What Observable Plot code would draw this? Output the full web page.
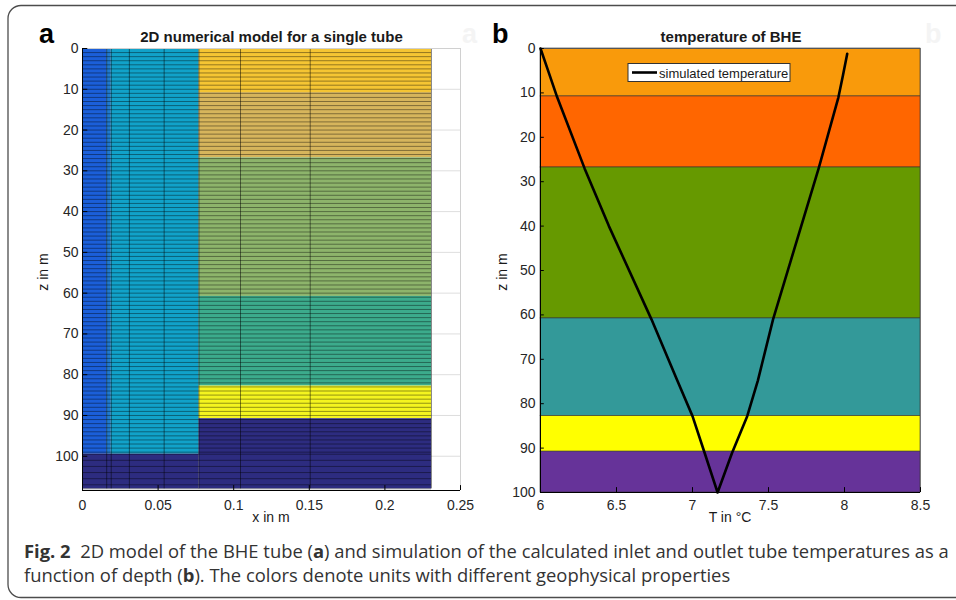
<!DOCTYPE html>
<html><head><meta charset="utf-8">
<script src="https://cdn.jsdelivr.net/npm/d3@7"></script>
<script src="https://cdn.jsdelivr.net/npm/@observablehq/plot@0.6"></script>
<style>
body{margin:0;background:#fff;}
#fig{position:relative;width:956px;height:600px;overflow:hidden;background:#fff;}
#fig > svg{position:absolute;top:0;}
#panelA{left:0;} #panelB{left:478px;} #overlay{left:0;}
</style></head><body><div id="fig"></div>
<script>
// ---------- data ----------
const layerDepths = [0, 10.8, 26.8, 60.8, 82.8, 90.8, 100];
const layerColorsA = ["#f5c533", "#d6b55c", "#8db46b", "#3cab8c", "#f4f41f", "#2d2c80"];
const layerColorsB = ["#f99a0b", "#ff6600", "#669900", "#339999", "#ffff00", "#663399"];
const innerEdges = [0, 0.016, 0.019, 0.077];
const innerColors = ["#1b5fd9", "#1f7ad0", "#11a2c9"];
const innerBottom = 99.5;
const meshBottom = 108;
const outerRight = 0.2308;
const meshX = [0.016, 0.019, 0.031, 0.054, 0.077, 0.1045, 0.1506, 0.2308];
const meshZoneStart = [0, 99.5];
const meshZoneEnd = [99.5, 108];
const meshZoneStep = [1, 1.5];
const profileT = [6.00, 6.05, 6.11, 6.29, 6.45, 6.73, 6.90, 7.00, 7.08, 7.165, 7.26, 7.36, 7.43, 7.53, 7.83, 7.96, 7.99, 8.018];
const profileZ = [0, 5, 11, 27, 40, 61, 74.8, 82.8, 91.1, 100, 91.1, 82.8, 74.8, 61, 27, 11, 6, 1.2];
const xTicksA = [0, 0.05, 0.1, 0.15, 0.2, 0.25];
const xTicksB = [6, 6.5, 7, 7.5, 8, 8.5];
const yTicks = [0, 10, 20, 30, 40, 50, 60, 70, 80, 90, 100];

// ---------- derived tables ----------
const cellsA = [];
for (let i = 0; i < layerColorsA.length; i++) {
  cellsA.push({x1: innerEdges[3], x2: outerRight, y1: layerDepths[i],
    y2: i === layerColorsA.length - 1 ? meshBottom : layerDepths[i + 1], fill: layerColorsA[i]});
}
for (let j = 0; j < innerColors.length; j++) {
  cellsA.push({x1: innerEdges[j], x2: innerEdges[j + 1], y1: 0, y2: innerBottom, fill: innerColors[j]});
}
cellsA.push({x1: 0, x2: innerEdges[3], y1: innerBottom, y2: meshBottom, fill: layerColorsA[layerColorsA.length - 1]});
const meshZ = [];
meshZoneStart.forEach((s, k) => { d3.range(s, meshZoneEnd[k], meshZoneStep[k]).forEach(z => meshZ.push(z)); });
meshZ.push(meshBottom);
const cellsB = layerColorsB.map((c, i) => ({y1: layerDepths[i], y2: layerDepths[i + 1], fill: c}));
const profile = profileT.map((t, i) => ({T: t, z: profileZ[i]}));

const font = "'Liberation Sans', Arial, Helvetica, sans-serif";
const yMaxA = 108.4;

const plotA = Plot.plot({
  width: 478, height: 530,
  marginLeft: 82, marginRight: 18, marginTop: 48, marginBottom: 40,
  style: {fontFamily: font, fontSize: "14px", color: "#262626", background: "transparent"},
  x: {domain: [0, 0.25]},
  y: {domain: [0, yMaxA], reverse: true},
  color: {type: "identity"},
  marks: [
    Plot.ruleY(yTicks, {x1: 0, x2: 0.25, stroke: "#dedede", strokeWidth: 1}),
    Plot.rect(cellsA, {x1: "x1", x2: "x2", y1: "y1", y2: "y2", fill: "fill"}),
    Plot.ruleY(meshZ, {x1: 0, x2: outerRight, stroke: "#000", strokeOpacity: 0.5, strokeWidth: 0.8}),
    Plot.ruleX(meshX, {y1: 0, y2: meshBottom, stroke: "#000", strokeOpacity: 0.6, strokeWidth: 0.8}),
    Plot.ruleY([0], {x1: 0, x2: 0.25, stroke: "#d0d0d0"}),
    Plot.ruleX([0.25], {y1: 0, y2: yMaxA, stroke: "#d0d0d0"}),
    Plot.ruleX([0], {y1: 0, y2: yMaxA, stroke: "#000"}),
    Plot.ruleY([yMaxA], {x1: 0, x2: 0.25, stroke: "#000"}),
    Plot.ruleX(xTicksA, {y1: yMaxA, y2: yMaxA - 1.2, stroke: "#000"}),
    Plot.ruleY(yTicks, {x1: 0, x2: 0.0035, stroke: "#000"}),
    Plot.axisX(xTicksA, {tickSize: 0, tickPadding: 10, tickFormat: d => String(d), label: null}),
    Plot.axisY(yTicks, {tickSize: 0, tickPadding: 4, tickFormat: d => String(d), label: null})
  ]
});
plotA.id = "panelA";

const plotB = Plot.plot({
  width: 478, height: 530,
  marginLeft: 62, marginRight: 36, marginTop: 48, marginBottom: 38,
  style: {fontFamily: font, fontSize: "14px", color: "#262626", background: "transparent"},
  x: {domain: [6, 8.5]},
  y: {domain: [0, 100], reverse: true},
  color: {type: "identity"},
  marks: [
    Plot.rect(cellsB, {x1: 6, x2: 8.5, y1: "y1", y2: "y2", fill: "fill", stroke: "#333", strokeWidth: 0.6}),
    Plot.line(profile, {x: "T", y: "z", stroke: "#000", strokeWidth: 2.6, curve: "linear"}),
    Plot.ruleY([0], {x1: 6, x2: 8.5, stroke: "#555"}),
    Plot.ruleX([8.5], {y1: 0, y2: 100, stroke: "#777"}),
    Plot.ruleX([6], {y1: 0, y2: 100, stroke: "#000"}),
    Plot.ruleY([100], {x1: 6, x2: 8.5, stroke: "#000"}),
    Plot.ruleX(xTicksB, {y1: 100, y2: 98.9, stroke: "#000"}),
    Plot.ruleY(yTicks, {x1: 6, x2: 6.025, stroke: "#000"}),
    Plot.axisX(xTicksB, {tickSize: 0, tickPadding: 8, tickFormat: d => String(d), label: null}),
    Plot.axisY(yTicks, {tickSize: 0, tickPadding: 5, tickFormat: d => String(d), label: null})
  ]
});
plotB.id = "panelB";

const fig = document.getElementById("fig");
fig.appendChild(plotA);
fig.appendChild(plotB);

// ---------- overlay: border, titles, labels, legend, caption ----------
const ns = "http://www.w3.org/2000/svg";
const ov = d3.select(fig).append("svg").attr("id", "overlay").attr("width", 956).attr("height", 600)
  .attr("xmlns", ns).style("font-family", font);
ov.append("rect").attr("x", 8).attr("y", 5.5).attr("width", 980).attr("height", 592).attr("rx", 13)
  .attr("fill", "none").attr("stroke", "#4d4d4d").attr("stroke-width", 1.3);
function txt(x, y, s, opt = {}) {
  const t = ov.append("text").attr("x", x).attr("y", y).text(s)
    .attr("font-size", opt.size || 14).attr("fill", opt.fill || "#1a1a1a")
    .attr("text-anchor", opt.anchor || "start");
  if (opt.bold) t.attr("font-weight", "bold");
  if (opt.rotate) t.attr("transform", `rotate(-90 ${x} ${y})`);
  return t;
}
txt(462, 43, "a", {size: 27, bold: true, fill: "#f4f4f4"});
txt(925, 43, "b", {size: 27, bold: true, fill: "#f4f4f4"});
txt(39, 43, "a", {size: 27, bold: true, fill: "#000"});
txt(492, 43, "b", {size: 27, bold: true, fill: "#000"});
txt(271.5, 42, "2D numerical model for a single tube", {size: 15, bold: true, anchor: "middle"});
txt(731, 42, "temperature of BHE", {size: 15, bold: true, anchor: "middle"});
txt(271, 522, "x in m", {anchor: "middle"});
txt(730, 522, "T in °C", {anchor: "middle"});
txt(48, 272, "z in m", {anchor: "middle", rotate: true});
txt(507, 272, "z in m", {anchor: "middle", rotate: true});
// legend
ov.append("rect").attr("x", 628).attr("y", 63.5).attr("width", 162).attr("height", 18)
  .attr("fill", "#fff").attr("stroke", "#333").attr("stroke-width", 1);
ov.append("line").attr("x1", 632).attr("x2", 657).attr("y1", 72.5).attr("y2", 72.5)
  .attr("stroke", "#000").attr("stroke-width", 2.6);
txt(659, 77.5, "simulated temperature", {size: 13});
// caption
const capFont = "'Open Sans', 'Noto Sans', sans-serif";
const c1 = ov.append("text").attr("x", 24).attr("y", 558).attr("font-size", 18.4).attr("fill", "#333")
  .style("font-family", capFont).style("white-space", "pre");
c1.append("tspan").attr("font-weight", "bold").text("Fig. 2");
c1.append("tspan").text("  2D model of the BHE tube (");
c1.append("tspan").attr("font-weight", "bold").text("a");
c1.append("tspan").text(") and simulation of the calculated inlet and outlet tube temperatures as a");
const c2 = ov.append("text").attr("x", 24).attr("y", 582).attr("font-size", 18.4).attr("fill", "#333")
  .style("font-family", capFont).style("white-space", "pre");
c2.append("tspan").text("function of depth (");
c2.append("tspan").attr("font-weight", "bold").text("b");
c2.append("tspan").text("). The colors denote units with different geophysical properties");
</script></body></html>
